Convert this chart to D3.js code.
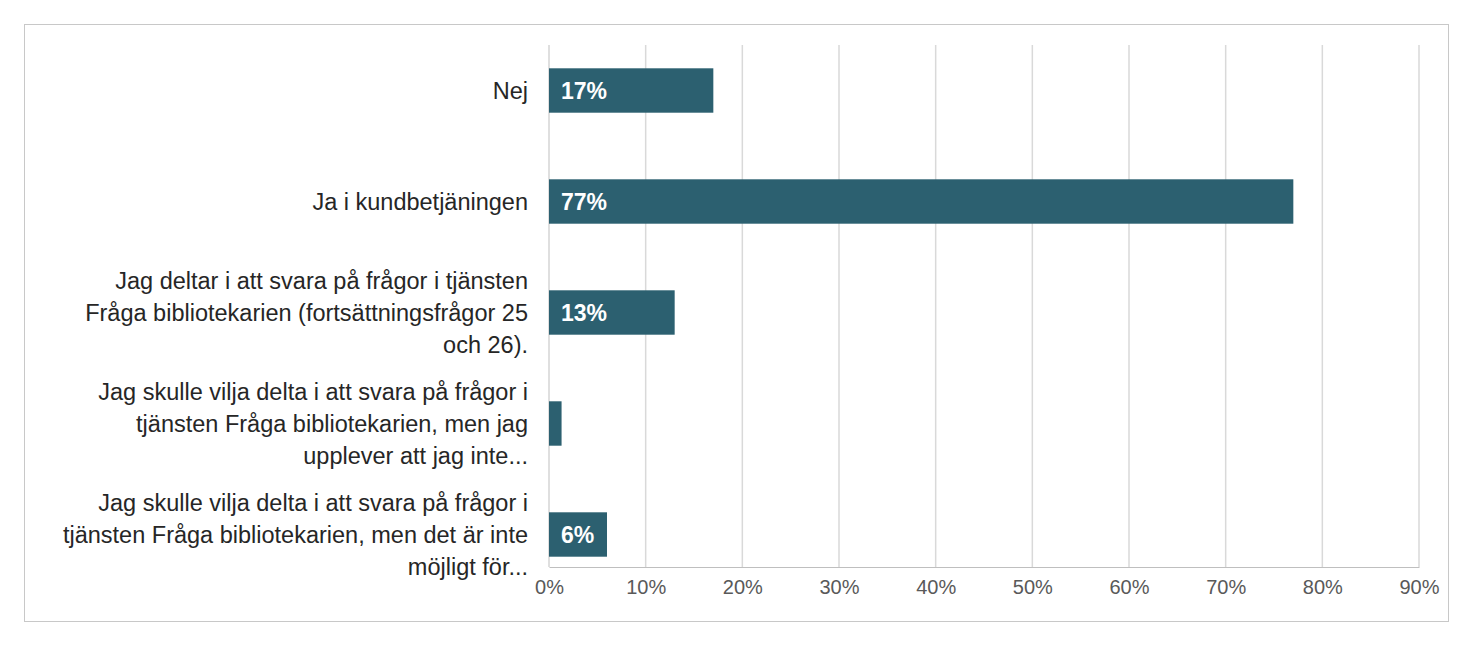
<!DOCTYPE html>
<html><head><meta charset="utf-8">
<script src="https://cdn.jsdelivr.net/npm/d3@7"></script>
<style>body{margin:0;background:#fff;font-family:"Liberation Sans",Arial,sans-serif}</style>
</head><body><div id="chart"></div>
<script>
// data
var categories = [
  ["Nej"],
  ["Ja i kundbetjäningen"],
  ["Jag deltar i att svara på frågor i tjänsten", "Fråga bibliotekarien (fortsättningsfrågor 25", "och 26)."],
  ["Jag skulle vilja delta i att svara på frågor i", "tjänsten Fråga bibliotekarien, men jag", "upplever att jag inte..."],
  ["Jag skulle vilja delta i att svara på frågor i", "tjänsten Fråga bibliotekarien, men det är inte", "möjligt för..."]
];
var values = [17, 77, 13, 1.3, 6];
var valueLabels = ["17%", "77%", "13%", "", "6%"];
var ticks = [0, 10, 20, 30, 40, 50, 60, 70, 80, 90];

var W = 1472, H = 648;
var svg = d3.select("#chart").append("svg").attr("width", W).attr("height", H);

svg.append("rect").attr("x", 24.5).attr("y", 24.5).attr("width", 1424).attr("height", 597)
  .attr("fill", "#fff").attr("stroke", "#c8c8c8");

var x = d3.scaleLinear().domain([0, 90]).range([549, 1419]);
var y = d3.scaleBand().domain(d3.range(categories.length)).range([35, 590]).paddingInner(0.6).paddingOuter(0.3);

//grid
svg.selectAll(".grid").data(ticks.slice(1)).enter().append("line")
  .attr("x1", d => x(d)).attr("x2", d => x(d)).attr("y1", 45).attr("y2", 567)
  .attr("stroke", "#d9d9d9").attr("stroke-width", 1.5);

//x axis
var xa = svg.append("g").attr("transform", "translate(0,567)")
  .call(d3.axisBottom(x).tickValues(ticks).tickFormat(d => d + "%").tickSize(0).tickPadding(13));
xa.select(".domain").attr("stroke", "#bfbfbf");
xa.selectAll("text").attr("font-size", 20).attr("fill", "#595959").attr("font-family", "Liberation Sans, Arial");

svg.append("line").attr("x1", 549).attr("x2", 549).attr("y1", 45).attr("y2", 567).attr("stroke", "#bfbfbf");

//bars
svg.selectAll(".bar").data(values).enter().append("rect")
  .attr("x", x(0)).attr("y", (d, i) => y(i)).attr("width", d => x(d) - x(0)).attr("height", y.bandwidth())
  .attr("fill", "#2c6070");

svg.selectAll(".vl").data(valueLabels).enter().append("text")
  .attr("x", x(0) + 12).attr("y", (d, i) => y(i) + y.bandwidth() / 2).attr("dy", "0.35em")
  .attr("fill", "#fff").attr("font-weight", "bold").attr("font-size", 23).text(d => d);

//category labels
var lh = 32;
categories.forEach(function(lines, i) {
  var cy = y(i) + y.bandwidth() / 2;
  var t = svg.append("text").attr("text-anchor", "end").attr("font-size", 23.5).attr("fill", "#262626");
  lines.forEach(function(l, j) {
    t.append("tspan").attr("x", 528).attr("y", cy + (j - (lines.length - 1) / 2) * lh).attr("dy", "0.35em").text(l);
  });
});
</script></body></html>
